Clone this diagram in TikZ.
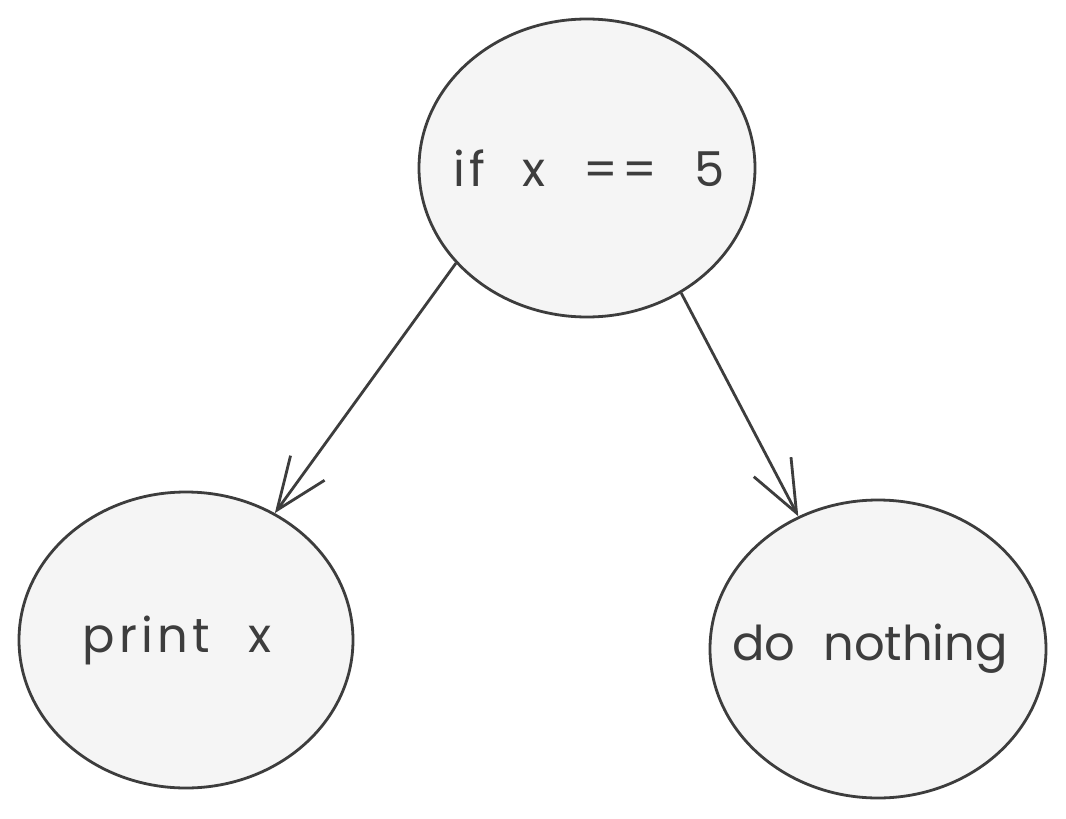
\documentclass[tikz,border=0pt]{standalone}
\usepackage{fontspec}
\setmainfont{Poppins}[WordSpace=2.2]
\usetikzlibrary{shapes.geometric,arrows.meta}
\definecolor{ink}{HTML}{3D3D3D}
\definecolor{bubble}{HTML}{F5F5F5}
\tikzset{
  bubble/.style={ellipse,draw=ink,fill=bubble,line width=2.8pt,inner sep=0pt,
    text=ink,font=\fontsize{48}{56}\selectfont},
  link/.style={draw=ink,line width=2.8pt,-{Straight Barb[length=52pt,width=42pt,line width=2.8pt]}}
}
\begin{document}
\begin{tikzpicture}[x=1pt,y=-1pt]
\useasboundingbox[fill=white] (0,0) rectangle (1066,819);
\node[bubble,minimum width=336pt,minimum height=298pt] (cond) at (587,168)
  {\makebox[0pt]{\addfontfeature{LetterSpace=9}\hspace{4pt}if x == 5}};
\node[bubble,minimum width=334pt,minimum height=296pt] (yes) at (186,640)
  {\makebox[0pt]{\addfontfeature{LetterSpace=9}print x\hspace{18pt}}};
\node[bubble,minimum width=336pt,minimum height=298pt] (no) at (878,649)
  {\makebox[0pt]{do nothing\hspace{16pt}}};
\draw[link] (cond.216.6) -- (yes.55.7);
\draw[link] (cond.307.4) -- (no.121.1);
\end{tikzpicture}
\end{document}
